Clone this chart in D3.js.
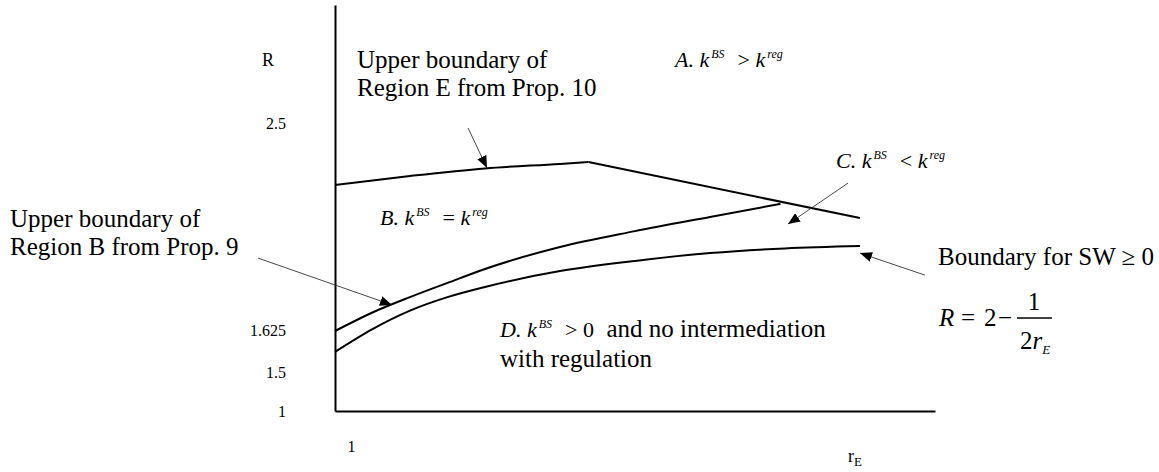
<!DOCTYPE html>
<html><head><meta charset="utf-8">
<script src="https://cdn.jsdelivr.net/npm/d3@7"></script>
<style>
body{margin:0;background:#fff;}
</style></head><body>
<svg id="chart" width="1159" height="472" font-family="'Liberation Serif','Times New Roman',serif"></svg>
<script>
// ---------- data ----------
const yTickValues = [1, 1.5, 1.625, 2.5];
const yTickLabels = ["1", "1.5", "1.625", "2.5"];
const xTickValues = [1];
const xTickLabels = ["1"];

// Upper boundary of Region E (Prop. 10)
const rE_E = [1, 1.5, 2, 2.5, 2.69, 4.5];
const R_E  = [2.238, 2.276, 2.308, 2.327, 2.335, 2.098];
// Upper boundary of Region B (Prop. 9)
const rE_B = [1, 1.25, 1.5, 1.75, 2, 2.5, 3, 3.5, 3.97];
const R_B  = [1.622, 1.699, 1.764, 1.824, 1.883, 1.976, 2.043, 2.103, 2.158];
// Boundary for SW >= 0 : R = 2 - 1/(2 rE)
const rE_SW = [1, 1.25, 1.5, 1.75, 2, 2.5, 3, 3.5, 4, 4.5];
const R_SW  = [1.56, 1.629, 1.707, 1.764, 1.807, 1.874, 1.917, 1.950, 1.970, 1.980];

// annotation arrows: [rE start, R start, rE tip, R tip]
const arrowE  = [1.887, 2.479, 2.013, 2.310];
const arrowB  = [0.487, 1.929, 1.38, 1.731];
const arrowC  = [4.42, 2.246, 4.02, 2.073];
const arrowSW = [4.933, 1.857, 4.5, 1.950];

// ---------- drawing ----------
const FONT = "'Liberation Serif','Times New Roman',serif";
const svg = d3.select("#chart");
const x = d3.scaleLinear().domain([1, 5]).range([335, 935]);
const y = d3.scaleLinear().domain([1, 1.5, 1.625, 2.5, 3]).range([411, 372, 330, 123, 5]);

svg.append("defs").append("marker")
  .attr("id", "ah").attr("markerUnits", "userSpaceOnUse")
  .attr("viewBox", "0 0 12 10").attr("refX", 12).attr("refY", 5)
  .attr("markerWidth", 12).attr("markerHeight", 10).attr("orient", "auto")
  .append("path").attr("d", "M0,0L12,5L0,10Z").attr("fill", "#000");

// axes
const yAxis = d3.axisLeft(y).tickValues(yTickValues)
  .tickFormat((d, i) => yTickLabels[i]).tickSize(0).tickSizeOuter(0).tickPadding(49);
const gy = svg.append("g").attr("transform", `translate(${x(1)},0)`).call(yAxis)
  .attr("font-family", FONT);
gy.select(".domain").attr("stroke", "#000").attr("stroke-width", 2);
gy.selectAll("text").attr("font-family", FONT).attr("font-size", 16).attr("fill", "#000");

const xAxis = d3.axisBottom(x).tickValues(xTickValues)
  .tickFormat((d, i) => xTickLabels[i]).tickSize(0).tickSizeOuter(0).tickPadding(30);
const gx = svg.append("g").attr("transform", `translate(0,${y(1)})`).call(xAxis)
  .attr("font-family", FONT);
gx.select(".domain").attr("stroke", "#000").attr("stroke-width", 2);
gx.selectAll("text").attr("font-family", FONT).attr("font-size", 16)
  .attr("fill", "#000").attr("dx", 16);

// axis titles
svg.append("text").attr("font-family", FONT).attr("x", 262).attr("y", 66)
  .attr("font-size", 18).text("R");
const xt = svg.append("text").attr("font-family", FONT).attr("x", 848).attr("y", 462)
  .attr("font-size", 18);
xt.append("tspan").text("r");
xt.append("tspan").attr("font-size", 13).attr("dy", 4).text("E");

// curves
const line = (xs, ys, curve) => d3.line().curve(curve)
  .x((d, i) => x(xs[i])).y((d, i) => y(ys[i]))(xs);
function pathFrom(xs, ys, curve) {
  svg.append("path").attr("d", line(xs, ys, curve))
    .attr("fill", "none").attr("stroke", "#000").attr("stroke-width", 2);
}
pathFrom(rE_E.slice(0, 5), R_E.slice(0, 5), d3.curveMonotoneX);
pathFrom(rE_E.slice(4), R_E.slice(4), d3.curveLinear);
pathFrom(rE_B, R_B, d3.curveMonotoneX);
pathFrom(rE_SW, R_SW, d3.curveMonotoneX);

// arrows
[arrowE, arrowB, arrowC, arrowSW].forEach(a => {
  svg.append("line")
    .attr("x1", x(a[0])).attr("y1", y(a[1]))
    .attr("x2", x(a[2])).attr("y2", y(a[3]))
    .attr("stroke", "#333").attr("stroke-width", 0.9)
    .attr("marker-end", "url(#ah)");
});

// text helpers
function plain(xp, yp, str, size, anchor) {
  return svg.append("text").attr("font-family", FONT).attr("x", xp).attr("y", yp)
    .attr("font-size", size || 25).attr("text-anchor", anchor || "start").text(str);
}
function rich(xp, yp, parts, size) {
  const t = svg.append("text").attr("font-family", FONT).attr("x", xp).attr("y", yp)
    .attr("font-size", size || 22).style("white-space", "pre");
  let shift = 0;
  parts.forEach(p => {
    const ts = t.append("tspan").text(p.t);
    if (p.i) ts.attr("font-style", "italic");
    const target = p.sup ? -9 : (p.sub ? 5 : 0);
    if (target !== shift) { ts.attr("dy", target - shift); shift = target; }
    if (p.sup || p.sub) ts.attr("font-size", p.fs || 12);
    if (p.fs && !(p.sup || p.sub)) ts.attr("font-size", p.fs);
    if (p.dx) ts.attr("dx", p.dx);
  });
  return t;
}

plain(357, 68, "Upper boundary of");
plain(357, 96, "Region E from Prop. 10");
plain(10, 227, "Upper boundary of");
plain(10, 255, "Region B from Prop. 9");
plain(938, 265, "Boundary for SW \u2265 0");

rich(675, 67, [{t:"A.", i:1}, {t:" "}, {t:"k", i:1}, {t:"BS", i:1, sup:1, dx:2},
  {t:"  >", dx:2}, {t:" "}, {t:"k", i:1}, {t:"reg", i:1, sup:1, dx:2}]);
rich(380, 225, [{t:"B.", i:1}, {t:" "}, {t:"k", i:1}, {t:"BS", i:1, sup:1, dx:2},
  {t:"  =", dx:2}, {t:" "}, {t:"k", i:1}, {t:"reg", i:1, sup:1, dx:2}]);
rich(836, 168, [{t:"C.", i:1}, {t:" "}, {t:"k", i:1}, {t:"BS", i:1, sup:1, dx:2},
  {t:"  <", dx:2}, {t:" "}, {t:"k", i:1}, {t:"reg", i:1, sup:1, dx:2}]);
rich(500, 337, [{t:"D.", i:1}, {t:" "}, {t:"k", i:1}, {t:"BS", i:1, sup:1, dx:2},
  {t:"  >", dx:2}, {t:" 0"}, {t:"  and no intermediation", fs:25}]);
plain(500, 367, "with regulation");

// formula R = 2 - 1/(2 r_E)
plain(939, 326, "R", 25).attr("font-style", "italic");
plain(961, 326, "=", 25);
plain(984, 326, "2", 25);
plain(998, 326, "\u2212", 25);
svg.append("line").attr("x1", 1017).attr("x2", 1052).attr("y1", 318).attr("y2", 318)
  .attr("stroke", "#000").attr("stroke-width", 1.3);
plain(1034, 310, "1", 25, "middle");
rich(1020, 349, [{t:"2"}, {t:"r", i:1}, {t:"E", i:1, sub:1, fs:13}], 25);
</script>
</body></html>
